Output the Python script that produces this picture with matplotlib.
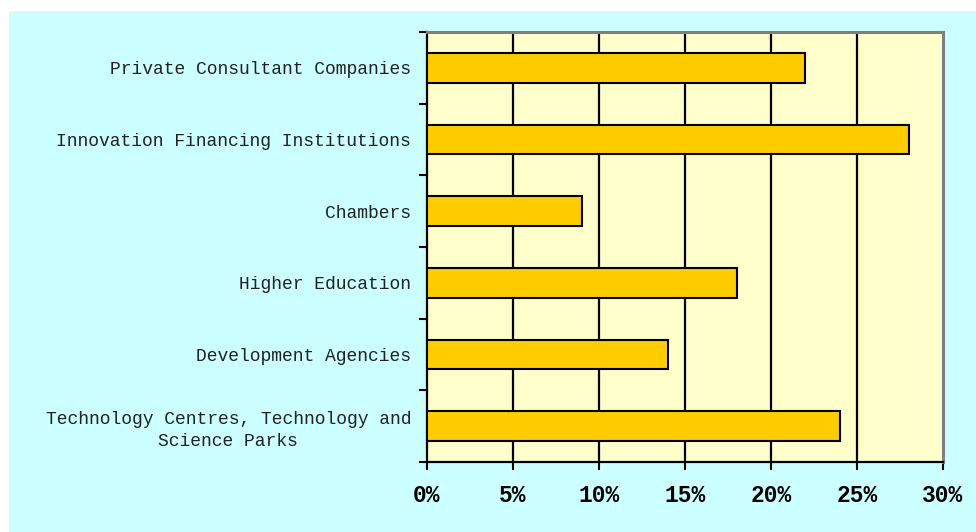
import matplotlib
matplotlib.use("Agg")
import matplotlib.pyplot as plt
from matplotlib.patches import Rectangle
import numpy as np

categories = [
    "Technology Centres, Technology and\nScience Parks",
    "Development Agencies",
    "Higher Education",
    "Chambers",
    "Innovation Financing Institutions",
    "Private Consultant Companies",
]
values = [24, 14, 18, 9, 28, 22]
xticks = [0, 5, 10, 15, 20, 25, 30]
xticklabels = ["0%", "5%", "10%", "15%", "20%", "25%", "30%"]

W, H = 976, 532
fig = plt.figure(figsize=(W / 100, H / 100), dpi=100, facecolor="white")
bg = Rectangle((9 / W, 0), 1 - 9 / W, 1 - 11 / H, transform=fig.transFigure,
               facecolor="#CCFFFF", edgecolor="none", zorder=-10)
fig.add_artist(bg)

ax = fig.add_axes([427 / W, 1 - 462 / H, (943 - 427) / W, (462 - 32) / H])
ax.set_facecolor("#FFFFCC")

y = np.arange(len(categories))
ax.barh(y, values, height=0.41, color="#FFCC00", edgecolor="black", linewidth=1.5, zorder=3)

ax.set_xlim(0, 30)
ax.set_ylim(-0.5, len(categories) - 0.5)
ax.set_xticks(xticks)
ax.set_xticklabels(xticklabels, fontfamily="Liberation Mono", fontweight="bold", fontsize=16.5)
ax.set_yticks(y)
ax.set_yticklabels(categories, fontfamily="Liberation Mono", fontsize=13, color="#222222",
                   multialignment="center", linespacing=1.35)
ax.set_yticks(np.arange(-0.5, len(categories), 1.0), minor=True)

ax.tick_params(axis="y", which="major", length=0, pad=11.5)
ax.tick_params(axis="y", which="minor", length=5.5, width=1.5, color="black", direction="out")
ax.tick_params(axis="x", which="major", length=5.5, width=1.5, color="black", pad=10.5)

for xv in xticks[1:-1]:
    ax.axvline(xv, color="black", linewidth=1.6, zorder=1)

for side in ["left", "bottom"]:
    ax.spines[side].set_color("black")
    ax.spines[side].set_linewidth(1.6)
for side in ["top", "right"]:
    ax.spines[side].set_color("#808080")
    ax.spines[side].set_linewidth(2.2)

fig.savefig("out.png", dpi=100, facecolor=fig.get_facecolor())
